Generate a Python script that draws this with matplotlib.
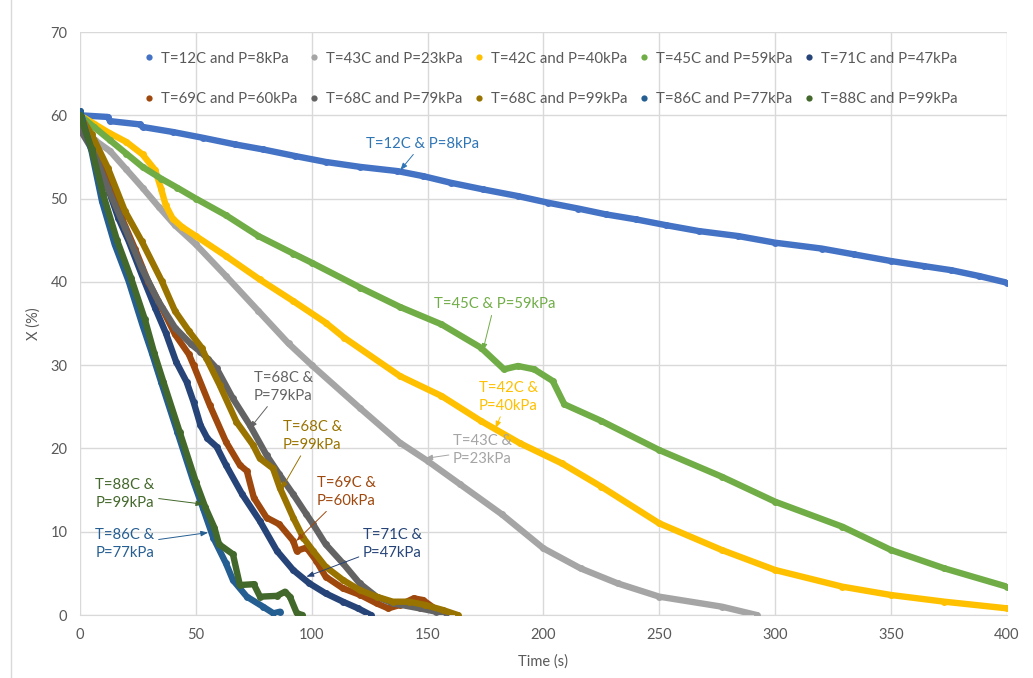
import matplotlib
matplotlib.use("Agg")
import matplotlib.pyplot as plt
from matplotlib.lines import Line2D

plt.rcParams['font.family'] = ['Lato', 'DejaVu Sans']

# ---- data (time in s, X in %) ----
labels = ["T=12C and P=8kPa", "T=43C and P=23kPa", "T=42C and P=40kPa",
          "T=45C and P=59kPa", "T=71C and P=47kPa", "T=69C and P=60kPa",
          "T=68C and P=79kPa", "T=68C and P=99kPa", "T=86C and P=77kPa",
          "T=88C and P=99kPa"]
colors = ["#4472C4", "#A5A5A5", "#FFC000", "#70AD47", "#264478",
          "#9E480E", "#636363", "#997300", "#255E91", "#43682B"]

t_12 = [0, 12, 13, 26, 27, 40, 53, 67, 79, 93, 106, 121, 137, 148, 160, 174, 189,
        202, 215, 227, 240, 253, 267, 284, 300, 320, 334, 350, 364, 376, 388, 400]
x_12 = [60.0, 59.8, 59.3, 58.9, 58.6, 58.0, 57.3, 56.5, 55.9, 55.1, 54.4, 53.8, 53.3,
        52.7, 51.9, 51.1, 50.3, 49.5, 48.8, 48.1, 47.5, 46.8, 46.1, 45.5, 44.7, 44.0,
        43.3, 42.5, 41.9, 41.4, 40.7, 39.9]

t_43 = [0, 6.5, 13, 20, 27, 34, 41, 50, 63, 77, 90, 100, 121, 138, 150, 164, 182,
        200, 216, 232, 250, 277, 292]
x_43 = [58.6, 57.0, 55.7, 53.5, 51.3, 49.0, 46.8, 44.5, 40.7, 36.5, 32.6, 30.0, 24.8,
        20.7, 18.5, 15.7, 12.1, 8.0, 5.6, 3.8, 2.2, 1.0, 0.0]

t_42 = [0, 6, 12.5, 20, 27, 32.5, 35, 37, 40, 44, 50, 63, 77.5, 92, 106, 114, 138,
        156, 173, 190, 208, 225, 250, 277, 300, 329, 350, 373, 400]
x_42 = [60.0, 59.0, 57.9, 56.8, 55.3, 53.4, 51.2, 49.2, 47.6, 46.6, 45.5, 43.1, 40.3,
        37.7, 35.1, 33.3, 28.7, 26.3, 23.3, 20.6, 18.2, 15.4, 11.0, 7.8, 5.4, 3.4,
        2.4, 1.6, 0.8]

t_45 = [0, 6, 13, 20, 27, 35, 42, 50, 63, 77, 92, 100, 121, 138, 156, 173, 183, 189,
        196, 204, 209, 225, 250, 277, 300, 329, 350, 373, 400]
x_45 = [60.0, 58.6, 57.0, 55.4, 53.8, 52.4, 51.3, 50.0, 48.0, 45.5, 43.4, 42.3, 39.3,
        37.0, 34.9, 32.1, 29.5, 29.9, 29.5, 28.1, 25.3, 23.3, 19.8, 16.6, 13.6, 10.6,
        7.8, 5.6, 3.4]

t_71 = [0, 6.5, 12, 16.5, 21, 26.6, 32.4, 37, 41.5, 46, 49, 52, 55, 59, 63, 70, 77.6,
        85, 92, 99, 106, 113.5, 120, 125.5]
x_71 = [60.5, 54.5, 51.3, 47.7, 44.9, 40.9, 36.9, 33.9, 30.4, 28.0, 25.6, 22.8, 21.2,
        20.2, 18.0, 14.5, 11.3, 7.7, 5.4, 3.8, 2.6, 1.6, 0.8, 0.0]

t_69 = [0, 6.5, 12, 18, 23.7, 29.5, 35.3, 41, 47, 49, 56, 63, 69, 72, 75, 80.5, 86,
        92, 93.5, 97.7, 102, 106, 113.5, 121, 128, 133, 138, 144, 148, 152]
x_69 = [60.0, 56.0, 52.0, 47.7, 44.0, 40.0, 36.9, 33.7, 31.3, 30.0, 25.2, 20.8, 18.0,
        17.3, 14.1, 11.7, 10.9, 8.9, 7.7, 8.1, 6.5, 4.6, 3.2, 2.4, 1.4, 0.8, 1.2, 2.0,
        1.8, 1.0]

t_68a = [0, 6.5, 12, 19.4, 26.6, 33.8, 41, 48, 52, 55.4, 59, 66, 73.3, 80.5, 86, 92,
         97.7, 100.6, 106, 113.5, 120.7, 128, 135, 146.6, 153.7, 158]
x_68a = [58.3, 55.3, 51.3, 46.5, 41.7, 37.7, 34.5, 32.5, 31.6, 30.7, 29.6, 26.0, 22.8,
         19.2, 16.9, 14.5, 12.1, 10.9, 8.5, 6.2, 3.8, 2.2, 1.4, 0.8, 0.4, 0.2]

t_68b = [0, 5, 12, 19.4, 26.6, 35.3, 41, 47, 52.5, 54.6, 60.3, 67.5, 74.7, 77.6, 83.3,
         86.2, 92, 96.3, 100.6, 106, 113.5, 120.7, 128, 135, 142, 149, 156.6, 163]
x_68b = [60.0, 57.7, 53.7, 48.5, 44.9, 40.1, 36.5, 34.1, 32.1, 30.8, 27.6, 23.2, 20.4,
         18.8, 17.6, 15.3, 11.7, 9.3, 7.7, 5.8, 4.2, 3.0, 2.2, 1.6, 1.6, 1.2, 0.6, 0.0]

t_86 = [0, 5, 9.5, 15, 21, 27, 31, 35, 42, 49, 53, 57.5, 63, 66, 72, 79, 83.5, 86.4]
x_86 = [60.5, 55.7, 49.7, 44.5, 40.1, 34.8, 31.5, 28.0, 22.0, 16.0, 12.9, 9.3, 6.2,
        4.2, 2.2, 1.0, 0.2, 0.4]

t_88 = [0, 5, 10, 16, 22, 28, 32, 36, 43, 50, 54, 58, 60, 66, 69, 75, 77.7, 85, 88.5,
        90.6, 93.6, 96]
x_88 = [60.0, 56.0, 50.5, 45.0, 40.5, 35.5, 31.5, 28.0, 22.0, 16.0, 13.0, 10.5, 8.5,
        7.3, 3.6, 3.7, 2.2, 2.3, 2.8, 2.2, 0.2, 0.0]

series_t = [t_12, t_43, t_42, t_45, t_71, t_69, t_68a, t_68b, t_86, t_88]
series_x = [x_12, x_43, x_42, x_45, x_71, x_69, x_68a, x_68b, x_86, x_88]

# callout labels: text, text position, point on curve, colour
notes = [
    ("T=12C & P=8kPa", (147.7, 56.6), (138.2, 53.4), "#2E75B6"),
    ("T=45C & P=59kPa", (178.8, 37.3), (173.8, 31.7), "#70AD47"),
    ("T=42C &\nP=40kPa", (184.9, 26.2), (179.3, 22.4), "#FFC000"),
    ("T=43C &\nP=23kPa", (173.7, 19.8), (149.0, 18.8), "#A5A5A5"),
    ("T=68C &\nP=79kPa", (87.7, 27.4), (73.3, 22.4), "#636363"),
    ("T=68C &\nP=99kPa", (100.2, 21.5), (86.9, 15.1), "#997300"),
    ("T=69C &\nP=60kPa", (114.9, 14.8), (93.4, 8.9), "#9E480E"),
    ("T=71C &\nP=47kPa", (134.8, 8.5), (97.7, 4.6), "#264478"),
    ("T=88C &\nP=99kPa", (19.4, 14.5), (53.2, 13.3), "#43682B"),
    ("T=86C &\nP=77kPa", (19.4, 8.5), (55.3, 9.9), "#255E91"),
]

fig = plt.figure(figsize=(10.33, 6.78), dpi=100)
ax = fig.add_axes([0.0774, 0.0929, 0.8974, 0.8599])

for t, x, c in zip(series_t, series_x, colors):
    ax.plot(t, x, '-', color=c, lw=4.6, solid_capstyle='round', zorder=3)
    ax.plot(t, x, 'o', color=c, ms=5, mew=0, zorder=3)

for txt, tpos, pt, c in notes:
    ax.annotate(txt, xy=pt, xytext=tpos, color=c, fontsize=10.7,
                ha='center', va='center', multialignment='left', zorder=5,
                linespacing=1.35,
                arrowprops=dict(arrowstyle='-|>,head_length=0.4,head_width=0.15',
                                color=c, lw=0.7, shrinkA=1, shrinkB=0))

ax.set_xlim(0, 400)
ax.set_ylim(0, 70)
ax.set_xticks(range(0, 401, 50))
ax.set_yticks(range(0, 71, 10))
ax.grid(True, color='#D9D9D9', lw=1)
ax.set_axisbelow(True)
for s in ['top', 'right', 'left']:
    ax.spines[s].set_visible(False)
ax.spines['bottom'].set_color('#D9D9D9')
ax.tick_params(length=0, labelsize=10.5, labelcolor='#595959', pad=9)
ax.set_xlabel("Time (s)", fontsize=10.5, color='#595959', labelpad=9)
ax.set_ylabel("X (%)", fontsize=10.5, color='#595959', labelpad=7)

handles = [Line2D([], [], ls='', marker='o', ms=4.5, mew=0, color=c) for c in colors]
order = [0, 5, 1, 6, 2, 7, 3, 8, 4, 9]
leg = ax.legend([handles[i] for i in order], [labels[i] for i in order], ncol=5,
                loc='center', bbox_to_anchor=(0.507, 0.920), frameon=False,
                fontsize=10.8, labelcolor='#595959', handlelength=0.8,
                handletextpad=0.4, columnspacing=0.7, labelspacing=1.75)

# light chart border on the left
fig.add_artist(Line2D([11 / 1033, 11 / 1033], [0, 1], color='#D9D9D9', lw=1))

fig.savefig("out.png", dpi=100)
